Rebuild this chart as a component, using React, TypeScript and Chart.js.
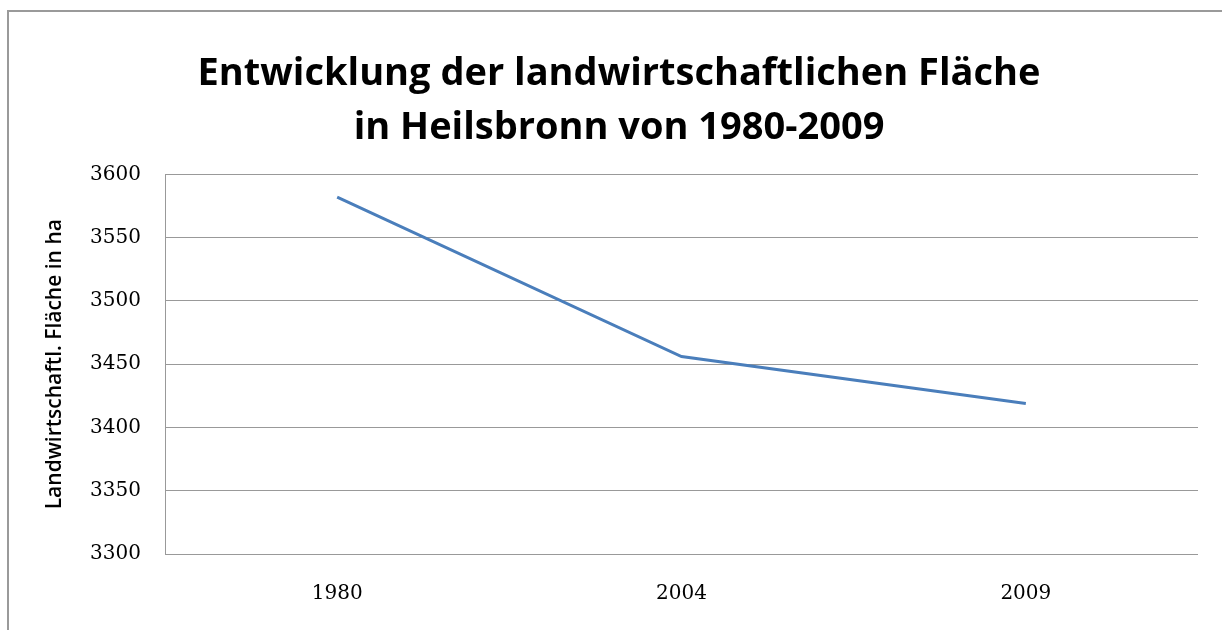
import React, { useEffect, useRef } from "react";
import { Chart, registerables } from "chart.js";

Chart.register(...registerables);

const categories = ["1980", "2004", "2009"];
const areaValues = [3582, 3456, 3419];
const yTicks = [3300, 3350, 3400, 3450, 3500, 3550, 3600];
const titleLines = [
  "Entwicklung der landwirtschaftlichen Fläche",
  "in Heilsbronn von 1980-2009",
];
const yAxisTitle = "Landwirtschaftl. Fläche in ha";

export default function App() {
  const ref = useRef<HTMLCanvasElement>(null);

  useEffect(() => {
    const chart = new Chart(ref.current!, {
      type: "line",
      data: {
        labels: categories,
        datasets: [
          {
            data: areaValues,
            borderColor: "#4a7ebb",
            borderWidth: 3,
            pointRadius: 0,
            tension: 0,
            fill: false,
          },
        ],
      },
      options: {
        responsive: false,
        animation: false,
        layout: { padding: { left: 40, right: 24, top: 0, bottom: 10 } },
        plugins: {
          legend: { display: false },
          tooltip: { enabled: false },
          title: {
            display: true,
            text: titleLines,
            color: "#000",
            font: { family: "'Open Sans'", size: 38, weight: "bold", lineHeight: 1.4 },
            padding: { top: 48, bottom: 20 },
          },
        },
        scales: {
          x: {
            type: "category",
            offset: true,
            grid: { display: false, drawTicks: false },
            border: { display: false },
            ticks: {
              color: "#000",
              font: { family: "'DejaVu Serif'", size: 20 },
              padding: 28,
            },
            afterFit: (s: any) => {
              s.height = 66;
            },
          },
          y: {
            min: 3300,
            max: 3600,
            afterBuildTicks: (s: any) => {
              s.ticks = yTicks.map((v) => ({ value: v }));
            },
            grid: { color: "#999", drawTicks: false },
            border: { display: true, color: "#999" },
            ticks: {
              color: "#000",
              font: { family: "'DejaVu Serif'", size: 20 },
              padding: 24,
              callback: (v: any) => String(v),
            },
            title: {
              display: true,
              text: yAxisTitle,
              color: "#000",
              font: { family: "'Open Sans'", size: 21, weight: 600 },
              padding: { top: 2, bottom: 0 },
            },
            afterFit: (s: any) => {
              s.width = 125;
            },
          },
        },
      },
    });
    return () => chart.destroy();
  }, []);

  return (
    <div
      style={{
        position: "fixed",
        left: 0,
        top: 0,
        width: 1222,
        height: 630,
        background: "#fff",
        overflow: "hidden",
      }}
    >
      <div
        style={{
          position: "absolute",
          left: 7,
          top: 10,
          width: 1300,
          height: 700,
          borderLeft: "2px solid #9a9a9a",
          borderTop: "2px solid #9a9a9a",
        }}
      />
      <canvas
        ref={ref}
        width={1222}
        height={630}
        style={{ position: "absolute", left: 0, top: 0 }}
      />
    </div>
  );
}
